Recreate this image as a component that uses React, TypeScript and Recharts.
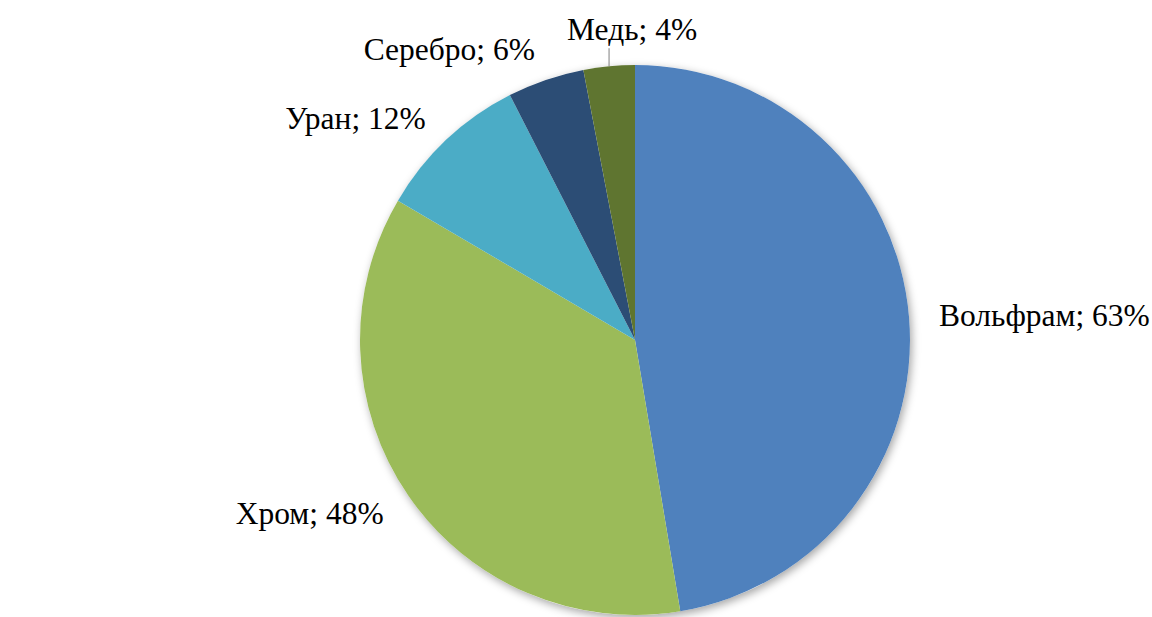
import React from 'react';
import { PieChart, Pie, Cell } from 'recharts';

const categories = ['Вольфрам', 'Хром', 'Уран', 'Серебро', 'Медь'];
const values = [63, 48, 12, 6, 4];
const colors = ['#4F81BD', '#9BBB59', '#4BACC6', '#2C4D75', '#5F7530'];

const data = categories.map((name, i) => ({ name, value: values[i] }));
const shadowData = [{ value: 1 }];

const RAD = Math.PI / 180;
const FONT = "'Liberation Serif', 'Times New Roman', serif";
const textStyle: React.CSSProperties = { fontFamily: FONT, fontSize: 31.5 };

const renderLabel = (props: any) => {
  const { cx, cy, midAngle, outerRadius, name, value, index } = props;
  const cos = Math.cos(-midAngle * RAD);
  const sin = Math.sin(-midAngle * RAD);
  const text = `${name}; ${value}%`;
  if (Math.abs(cos) < 0.25) {
    const ex = cx + outerRadius * cos;
    const ey = cy + outerRadius * sin;
    const ty = ey - 18;
    return (
      <g key={`lbl-${index}`}>
        <line x1={ex} y1={ey} x2={ex} y2={ty} stroke="#7f7f7f" strokeWidth={1} />
        <text x={ex + 23} y={ty - 8} textAnchor="middle" style={textStyle} fill="#000">
          {text}
        </text>
      </g>
    );
  }
  const r = outerRadius + (sin < -0.9 ? 33 : 30);
  const x = cx + r * cos;
  const y = cy + r * sin;
  return (
    <text
      key={`lbl-${index}`}
      x={x}
      y={y + 11}
      textAnchor={cos > 0 ? 'start' : 'end'}
      style={textStyle}
      fill="#000"
    >
      {text}
    </text>
  );
};

export default function App() {
  return (
    <div style={{ position: 'absolute', left: 0, top: 0, width: 1152, height: 617, background: '#fff', fontFamily: FONT }}>
      <style>{`.shadow-pie path { filter: drop-shadow(2px 3px 4px rgba(0,0,0,0.35)); }`}</style>
      <PieChart width={1152} height={617} margin={{ top: 0, right: 0, bottom: 0, left: 0 }}>
        <Pie
          className="shadow-pie"
          data={shadowData}
          dataKey="value"
          cx={635}
          cy={340}
          outerRadius={275}
          startAngle={90}
          endAngle={-270}
          fill="#ffffff"
          stroke="none"
          isAnimationActive={false}
          label={false}
          labelLine={false}
        />
        <Pie
          data={data}
          dataKey="value"
          nameKey="name"
          cx={635}
          cy={340}
          outerRadius={275}
          startAngle={90}
          endAngle={-270}
          stroke="none"
          isAnimationActive={false}
          labelLine={false}
          label={renderLabel}
        >
          {data.map((d, i) => (
            <Cell key={d.name} fill={colors[i]} />
          ))}
        </Pie>
      </PieChart>
    </div>
  );
}
